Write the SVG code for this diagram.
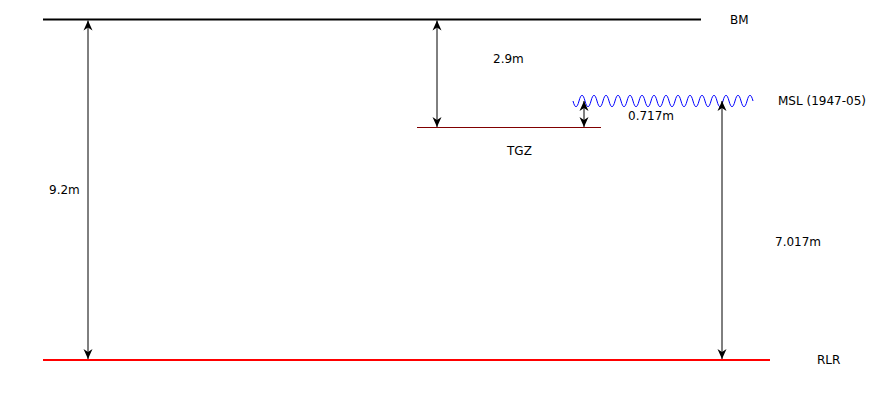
<svg xmlns="http://www.w3.org/2000/svg" width="875" height="400" viewBox="0 0 875 400">
<style>
text{font-family:"DejaVu Sans",sans-serif;font-size:12px;fill:#000}
.dim{stroke:#000;stroke-width:1;fill:none;marker-start:url(#ah);marker-end:url(#ah)}
</style>
<defs>
<marker id="ah" markerUnits="userSpaceOnUse" markerWidth="14" markerHeight="12" viewBox="-11 -6 12 12" refX="0" refY="0" orient="auto-start-reverse">
<path d="M0,0 L-10,-4.5 L-7,0 L-10,4.5 Z" fill="#000"/>
</marker>
</defs>
<rect width="875" height="400" fill="#fff"/>
<g id="bm">
<line x1="43" y1="19.5" x2="701" y2="19.5" stroke="#000" stroke-width="2"/>
<text x="730" y="24">BM</text>
</g>
<g id="rlr">
<line x1="43" y1="360" x2="770" y2="360" stroke="#f00" stroke-width="2"/>
<text x="817" y="364">RLR</text>
</g>
<g id="tgz">
<line x1="417" y1="127.5" x2="601" y2="127.5" stroke="#800000" stroke-width="1"/>
<text x="507" y="155">TGZ</text>
</g>
<g id="msl">
<path d="M573,101 c2,7.6 4,7.6 6,0 s4,-7.6 6,0 s4,7.6 6,0 s4,-7.6 6,0 s4,7.6 6,0 s4,-7.6 6,0 s4,7.6 6,0 s4,-7.6 6,0 s4,7.6 6,0 s4,-7.6 6,0 s4,7.6 6,0 s4,-7.6 6,0 s4,7.6 6,0 s4,-7.6 6,0 s4,7.6 6,0 s4,-7.6 6,0 s4,7.6 6,0 s4,-7.6 6,0 s4,7.6 6,0 s4,-7.6 6,0 s4,7.6 6,0 s4,-7.6 6,0 s4,7.6 6,0 s4,-7.6 6,0 s4,7.6 6,0 s4,-7.6 6,0 s4,7.6 6,0 s4,-7.6 6,0 s4,7.6 6,0 s4,-7.6 6,0" stroke="#00f" stroke-width="1" fill="none"/>
<text x="778" y="105">MSL (1947-05)</text>
</g>
<g id="connectors">
<line class="dim" x1="88" y1="20.5" x2="88" y2="359"/>
<line class="dim" x1="437" y1="20.5" x2="437" y2="127"/>
<line class="dim" x1="584" y1="101" x2="584" y2="127"/>
<line class="dim" x1="722" y1="101" x2="722" y2="359"/>
</g>
<g id="labels">
<text x="49" y="194">9.2m</text>
<text x="493" y="63">2.9m</text>
<text x="628" y="120">0.717m</text>
<text x="775" y="246">7.017m</text>
</g>
</svg>
